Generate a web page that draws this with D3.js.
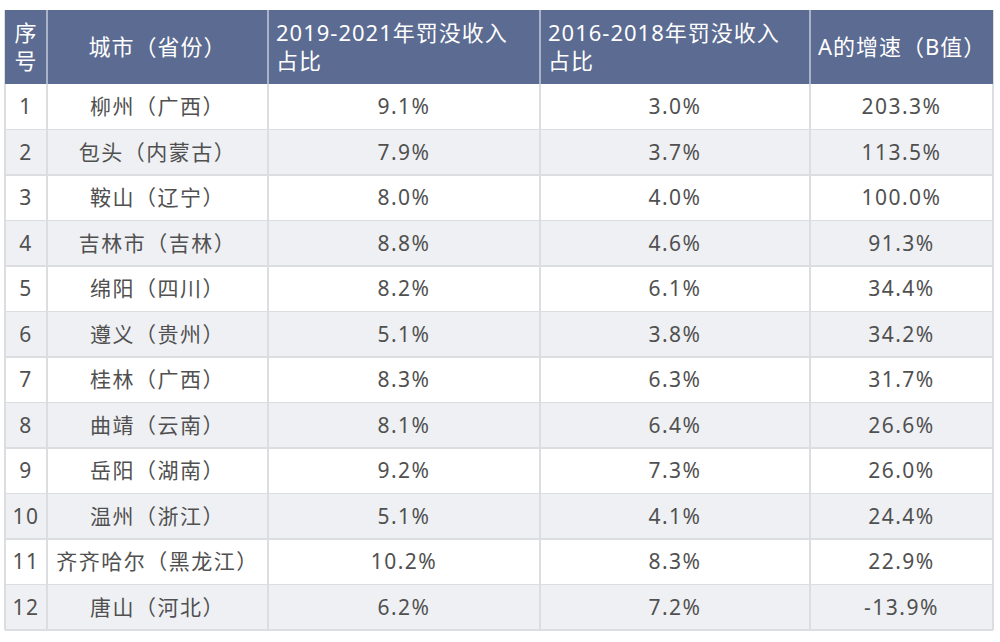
<!DOCTYPE html>
<meta charset="utf-8">
<style>
body { margin: 0; background: #fff; }
svg { display: block; font-family: "Noto Sans", "Noto Sans CJK SC", sans-serif; }
.head { fill: #5b6b91; }
.head-text { fill: #fff; font-size: 22px; letter-spacing: 1px; }
.cell-text { fill: #505050; font-size: 21px; letter-spacing: 1.5px; }
.grid { stroke: #dcdde0; stroke-width: 1.5; shape-rendering: crispEdges; }
</style>
<svg width="1000" height="642"></svg>
<script src="https://d3js.org/d3.v7.min.js"></script>
<script>
// table data
var ids = [1, 2, 3, 4, 5, 6, 7, 8, 9, 10, 11, 12];
var cities = ["柳州（广西）", "包头（内蒙古）", "鞍山（辽宁）", "吉林市（吉林）", "绵阳（四川）", "遵义（贵州）",
              "桂林（广西）", "曲靖（云南）", "岳阳（湖南）", "温州（浙江）", "齐齐哈尔（黑龙江）", "唐山（河北）"];
var shareA = ["9.1%", "7.9%", "8.0%", "8.8%", "8.2%", "5.1%", "8.3%", "8.1%", "9.2%", "5.1%", "10.2%", "6.2%"];
var shareB = ["3.0%", "3.7%", "4.0%", "4.6%", "6.1%", "3.8%", "6.3%", "6.4%", "7.3%", "4.1%", "8.3%", "7.2%"];
var growth = ["203.3%", "113.5%", "100.0%", "91.3%", "34.4%", "34.2%", "31.7%", "26.6%", "26.0%", "24.4%", "22.9%", "-13.9%"];
var headers = [["序", "号"], ["城市（省份）"], ["2019-2021年罚没收入", "占比"], ["2016-2018年罚没收入", "占比"], ["A的增速（B值）"]];

var svg = d3.select("svg");
var edges = [5, 47, 268, 540, 810, 993];
var tableTop = 10, headBottom = 84, tableBottom = 630;

var yScale = d3.scaleBand()
    .domain(ids)
    .range([headBottom, tableBottom]);

var rows = ids.map(function(d, i) {
    return [d, cities[i], shareA[i], shareB[i], growth[i]];
});

// body stripes
svg.append("g").selectAll("rect")
    .data(rows)
    .enter().append("rect")
        .attr("x", edges[0])
        .attr("y", function(d) { return yScale(d[0]); })
        .attr("width", edges[5] - edges[0])
        .attr("height", yScale.bandwidth())
        .attr("fill", function(d, i) { return i % 2 ? "#eff0f4" : "#fff"; });

// grid lines
var grid = svg.append("g");
grid.selectAll(".h")
    .data(ids.slice(1).concat(["end"]))
    .enter().append("line")
        .attr("class", "grid")
        .attr("x1", edges[0]).attr("x2", edges[5])
        .attr("y1", function(d) { return d == "end" ? tableBottom : yScale(d); })
        .attr("y2", function(d) { return d == "end" ? tableBottom : yScale(d); });
grid.selectAll(".v")
    .data(edges)
    .enter().append("line")
        .attr("class", "grid")
        .attr("x1", function(d) { return d; }).attr("x2", function(d) { return d; })
        .attr("y1", tableTop)
        .attr("y2", tableBottom);

// header
svg.append("rect")
    .attr("class", "head")
    .attr("x", edges[0]).attr("y", tableTop)
    .attr("width", edges[5] - edges[0]).attr("height", headBottom - tableTop);

svg.append("g").selectAll("line")
    .data(edges.slice(1, 5))
    .enter().append("line")
        .attr("stroke", "#c3cad9").attr("stroke-width", 1.5)
        .attr("x1", function(d) { return d; }).attr("x2", function(d) { return d; })
        .attr("y1", tableTop).attr("y2", headBottom);

headers.forEach(function(h, c) {
    var left = c >= 2;
    var x = left ? edges[c] + 8 : (edges[c] + edges[c + 1]) / 2;
    var cy = (tableTop + headBottom) / 2;
    var t = svg.append("text")
        .attr("class", "head-text")
        .attr("text-anchor", left ? "start" : "middle");
    h.forEach(function(line, k) {
        t.append("tspan")
            .attr("x", x)
            .attr("y", cy + (k - (h.length - 1) / 2) * 28)
            .attr("dy", "0.36em")
            .text(line);
    });
});

// cell text
var rowG = svg.append("g").selectAll("g")
    .data(rows)
    .enter().append("g")
        .attr("transform", function(d) { return "translate(0," + (yScale(d[0]) + yScale.bandwidth() / 2) + ")"; });

rowG.selectAll("text")
    .data(function(d) { return d; })
    .enter().append("text")
        .attr("class", "cell-text")
        .attr("text-anchor", "middle")
        .attr("x", function(d, c) { return (edges[c] + edges[c + 1]) / 2; })
        .attr("dy", "0.36em")
        .text(function(d) { return d; });
</script>
